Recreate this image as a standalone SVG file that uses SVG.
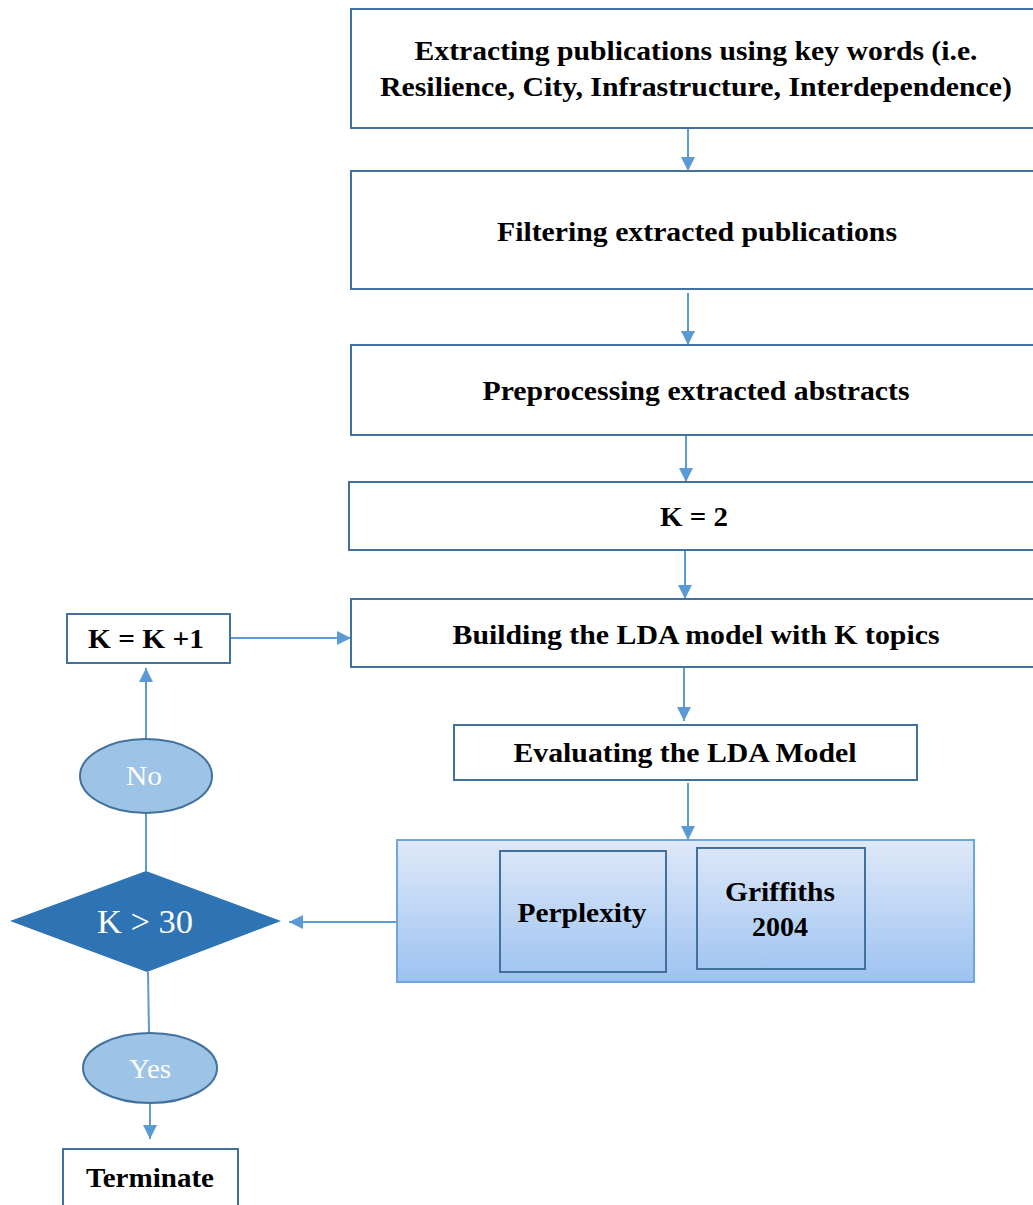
<svg xmlns="http://www.w3.org/2000/svg" width="1033" height="1205" viewBox="0 0 1033 1205">
  <defs>
    <marker id="arrow" viewBox="0 0 14 14" refX="14" refY="7" markerWidth="14" markerHeight="14" markerUnits="userSpaceOnUse" orient="auto">
      <path d="M0,0 L14,7 L0,14 Z" fill="#5b9bd5"/>
    </marker>
    <linearGradient id="evalFill" x1="0" y1="0" x2="0" y2="1">
      <stop offset="0" stop-color="#dfe9f8"/>
      <stop offset="1" stop-color="#9dc2f1"/>
    </linearGradient>
    <style>
      .box { fill: #ffffff; stroke: #41719c; stroke-width: 2; }
      .inner { fill: none; stroke: #41719c; stroke-width: 2; }
      .lbl { font-family: "Liberation Serif", "Times New Roman", serif; font-weight: bold; font-size: 28px; fill: #000000; text-anchor: middle; }
      .wlbl { font-family: "Liberation Serif", "Times New Roman", serif; fill: #ffffff; text-anchor: middle; }
      .conn { fill: none; stroke: #5b9bd5; stroke-width: 2; }
      .oval { fill: #9dc3e6; stroke: #41719c; stroke-width: 2; }
    </style>
  </defs>

  <!-- connectors -->
  <g id="connectors">
    <line class="conn" x1="688" y1="113" x2="688" y2="171" marker-end="url(#arrow)"/>
    <line class="conn" x1="688" y1="293" x2="688" y2="345" marker-end="url(#arrow)"/>
    <line class="conn" x1="686" y1="427" x2="686" y2="482" marker-end="url(#arrow)"/>
    <line class="conn" x1="685" y1="547" x2="685" y2="599" marker-end="url(#arrow)"/>
    <line class="conn" x1="231" y1="638" x2="351" y2="638" marker-end="url(#arrow)"/>
    <line class="conn" x1="684" y1="664" x2="684" y2="721" marker-end="url(#arrow)"/>
    <line class="conn" x1="688" y1="783" x2="688" y2="840" marker-end="url(#arrow)"/>
    <line class="conn" x1="397" y1="922" x2="289" y2="922" marker-end="url(#arrow)"/>
    <line class="conn" x1="146" y1="871" x2="146" y2="812"/>
    <line class="conn" x1="146" y1="739" x2="146" y2="668" marker-end="url(#arrow)"/>
    <line class="conn" x1="148" y1="972" x2="149" y2="1033"/>
    <line class="conn" x1="150" y1="1104" x2="150" y2="1139" marker-end="url(#arrow)"/>
  </g>

  <g id="extract">
    <rect class="box" x="351" y="9" width="700" height="119"/>
    <text class="lbl" x="696" y="60" textLength="563" lengthAdjust="spacingAndGlyphs">Extracting publications using key words (i.e.</text>
    <text class="lbl" x="696" y="96" textLength="632" lengthAdjust="spacingAndGlyphs">Resilience, City, Infrastructure, Interdependence)</text>
  </g>

  <g id="filter">
    <rect class="box" x="351" y="171" width="700" height="118"/>
    <text class="lbl" x="697" y="241" textLength="400" lengthAdjust="spacingAndGlyphs">Filtering extracted publications</text>
  </g>

  <g id="preprocess">
    <rect class="box" x="351" y="345" width="700" height="90"/>
    <text class="lbl" x="696" y="400" textLength="427" lengthAdjust="spacingAndGlyphs">Preprocessing extracted abstracts</text>
  </g>

  <g id="k-init">
    <rect class="box" x="349" y="482" width="700" height="68"/>
    <text class="lbl" x="694" y="526" textLength="68" lengthAdjust="spacingAndGlyphs">K = 2</text>
  </g>

  <g id="build">
    <rect class="box" x="351" y="599" width="700" height="68"/>
    <text class="lbl" x="696" y="644" textLength="487" lengthAdjust="spacingAndGlyphs">Building the LDA model with K topics</text>
  </g>

  <g id="k-inc">
    <rect class="box" x="67" y="614" width="163" height="49"/>
    <text class="lbl" x="146" y="648" textLength="116" lengthAdjust="spacingAndGlyphs">K = K +1</text>
  </g>

  <g id="evaluate">
    <rect class="box" x="454" y="725" width="463" height="55"/>
    <text class="lbl" x="685" y="762" textLength="343" lengthAdjust="spacingAndGlyphs">Evaluating the LDA Model</text>
  </g>

  <g id="metrics">
    <rect x="397" y="840" width="577" height="142" fill="url(#evalFill)" stroke="#6fa6df" stroke-width="2"/>
    <g id="perplexity">
      <rect class="inner" x="500" y="851" width="166" height="121"/>
      <text class="lbl" x="582" y="922" textLength="129" lengthAdjust="spacingAndGlyphs">Perplexity</text>
    </g>
    <g id="griffiths">
      <rect class="inner" x="697" y="848" width="168" height="121"/>
      <text class="lbl" x="780" y="901" textLength="110" lengthAdjust="spacingAndGlyphs">Griffiths</text>
      <text class="lbl" x="780" y="936" textLength="56" lengthAdjust="spacingAndGlyphs">2004</text>
    </g>
  </g>

  <g id="decision">
    <polygon points="146,871 281,921 147,972 10,921" fill="#2e74b5"/>
    <text class="wlbl" x="145" y="933" font-size="34" textLength="96" lengthAdjust="spacingAndGlyphs">K &gt; 30</text>
  </g>

  <g id="no">
    <ellipse class="oval" cx="146" cy="776" rx="66" ry="37"/>
    <text class="wlbl" x="144" y="785" font-size="27" textLength="36" lengthAdjust="spacingAndGlyphs">No</text>
  </g>

  <g id="yes">
    <ellipse class="oval" cx="150" cy="1068" rx="67" ry="35"/>
    <text class="wlbl" x="150" y="1078" font-size="27" textLength="42" lengthAdjust="spacingAndGlyphs">Yes</text>
  </g>

  <g id="terminate">
    <rect class="box" x="63" y="1149" width="175" height="70"/>
    <text class="lbl" x="150" y="1187" textLength="128" lengthAdjust="spacingAndGlyphs">Terminate</text>
  </g>
</svg>
